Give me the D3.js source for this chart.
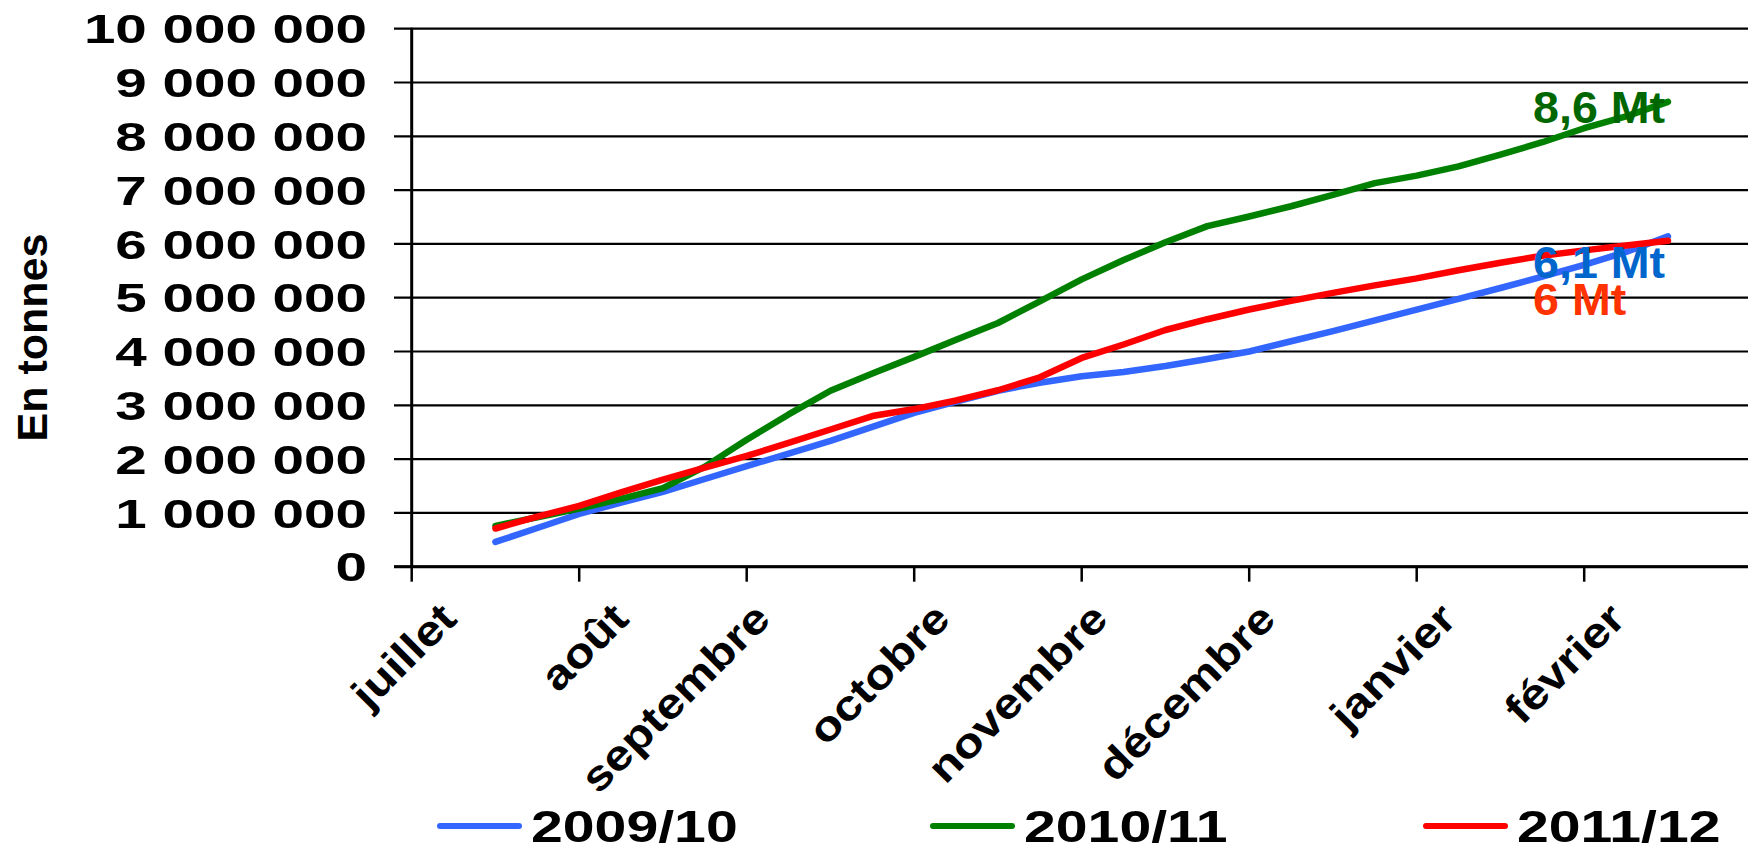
<!DOCTYPE html>
<html><head><meta charset="utf-8">
<script src="https://cdn.jsdelivr.net/npm/d3@7"></script>
<style>
body{margin:0;background:#fff;}
svg text{font-family:"Liberation Sans",Arial,Helvetica,sans-serif;font-weight:bold;}
</style>
</head><body>
<svg id="chart" width="1748" height="847"></svg>
<script>
// ---- data ----
const months = ["juillet","août","septembre","octobre","novembre","décembre","janvier","février"];
const yTickValues = [0,1000000,2000000,3000000,4000000,5000000,6000000,7000000,8000000,9000000,10000000];
const seriesNames = ["2009/10","2010/11","2011/12"];
const seriesColors = ["#3366FF","#008000","#FF0000"];
// weekly cumulative tonnages (Mt)
const s2009_10 = [0.46,0.72,0.98,1.19,1.39,1.63,1.87,2.10,2.34,2.60,2.86,3.07,3.27,3.42,3.54,3.62,3.73,3.86,4.00,4.19,4.38,4.58,4.78,4.98,5.18,5.39,5.61,5.85,6.14];
const s2010_11 = [0.76,0.92,1.08,1.26,1.46,1.86,2.36,2.83,3.27,3.59,3.90,4.22,4.53,4.93,5.34,5.70,6.03,6.33,6.51,6.70,6.91,7.13,7.27,7.44,7.66,7.89,8.15,8.37,8.64];
const s2011_12 = [0.71,0.93,1.13,1.38,1.62,1.84,2.06,2.30,2.55,2.80,2.93,3.09,3.28,3.52,3.88,4.13,4.40,4.60,4.78,4.94,5.09,5.23,5.36,5.51,5.65,5.78,5.88,5.97,6.06];
const endLabels = ["6,1 Mt","8,6 Mt","6 Mt"];
const endLabelColors = ["#0066CC","#006600","#FF3300"];
const yTitle = "En tonnes";

// ---- layout ----
const svg = d3.select("#chart");
svg.append("rect").attr("width",1748).attr("height",847).attr("fill","#fff");

// week index scale: month m starts at week 4m-2, first data point at week 0
const x = d3.scaleLinear().domain([-2, 30]).range([411.7, 1751.7]);
const y = d3.scaleLinear().domain([0, 10000000]).range([566.7, 28.7]);
const fmt = d3.formatLocale({decimal:",", thousands:" ", grouping:[3], currency:["",""]}).format(",d");

// gridlines (extend left as tick marks)
svg.append("g").selectAll("line").data(yTickValues).join("line")
  .attr("x1",394).attr("x2",1748)
  .attr("y1",d=>y(d)).attr("y2",d=>y(d))
  .attr("stroke","#000").attr("stroke-width",2.2);

// y axis line
svg.append("line").attr("x1",x(-2)).attr("x2",x(-2)).attr("y1",y(10000000)-1).attr("y2",y(0))
  .attr("stroke","#000").attr("stroke-width",3);
// x axis line
svg.append("line").attr("x1",394).attr("x2",1748).attr("y1",y(0)).attr("y2",y(0))
  .attr("stroke","#000").attr("stroke-width",3);

// x ticks at month boundaries
const monthTicks = months.map((m,i)=>4*i-2);
svg.append("g").selectAll("line").data(monthTicks).join("line")
  .attr("x1",d=>x(d)).attr("x2",d=>x(d)).attr("y1",y(0)).attr("y2",y(0)+15)
  .attr("stroke","#000").attr("stroke-width",2.5);

// y tick labels
const ySx = 1.38;
svg.append("g").selectAll("text").data(yTickValues).join("text")
  .attr("transform",d=>`translate(367,${y(d)+14.6}) scale(${ySx},1)`)
  .attr("text-anchor","end").attr("font-size",41).attr("fill","#000")
  .text(d=>fmt(d));

// x tick labels, rotated
const xSx = 1.16;
const xl = svg.append("g").selectAll("text").data(months).join("text")
  .attr("text-anchor","end").attr("font-size",42).attr("fill","#000")
  .text(d=>d);
xl.each(function(d,i){
  const len = this.getComputedTextLength()*xSx;
  const ex = x(monthTicks[i]) + 70 - 0.18*len;
  d3.select(this).attr("transform",`translate(${ex},621) rotate(-45) scale(${xSx},1)`);
});

// y title
svg.append("text").attr("transform","translate(46.7,337.5) rotate(-90)")
  .attr("text-anchor","middle").attr("font-size",43).attr("fill","#000").text(yTitle);

// series lines
const series = [s2009_10, s2010_11, s2011_12];
const line = d3.line().x((d,i)=>x(i)).y(d=>y(d*1000000));
const order = [0,1,2];
svg.append("g").selectAll("path").data(order).join("path")
  .attr("d",i=>line(series[i]))
  .attr("fill","none").attr("stroke",i=>seriesColors[i]).attr("stroke-width",6.5)
  .attr("stroke-linejoin","round").attr("stroke-linecap","round");

// end labels
const endPos = [[1533,278.3],[1533,123.3],[1533,315]];
svg.append("g").selectAll("text").data(endLabels).join("text")
  .attr("transform",(d,i)=>`translate(${endPos[i][0]},${endPos[i][1]}) scale(1.06,1)`)
  .attr("font-size",44).attr("fill",(d,i)=>endLabelColors[i]).text(d=>d);

// legend
const legX = [437, 930, 1423];
const lg = svg.append("g").selectAll("g").data(seriesNames).join("g")
  .attr("transform",(d,i)=>`translate(${legX[i]},0)`);
lg.append("line").attr("x1",3).attr("x2",82).attr("y1",826).attr("y2",826)
  .attr("stroke",(d,i)=>seriesColors[i]).attr("stroke-width",6).attr("stroke-linecap","round");
lg.append("text").attr("transform",`translate(94,842) scale(1.3,1)`)
  .attr("font-size",44).attr("fill","#000").text(d=>d);
</script>
</body></html>
